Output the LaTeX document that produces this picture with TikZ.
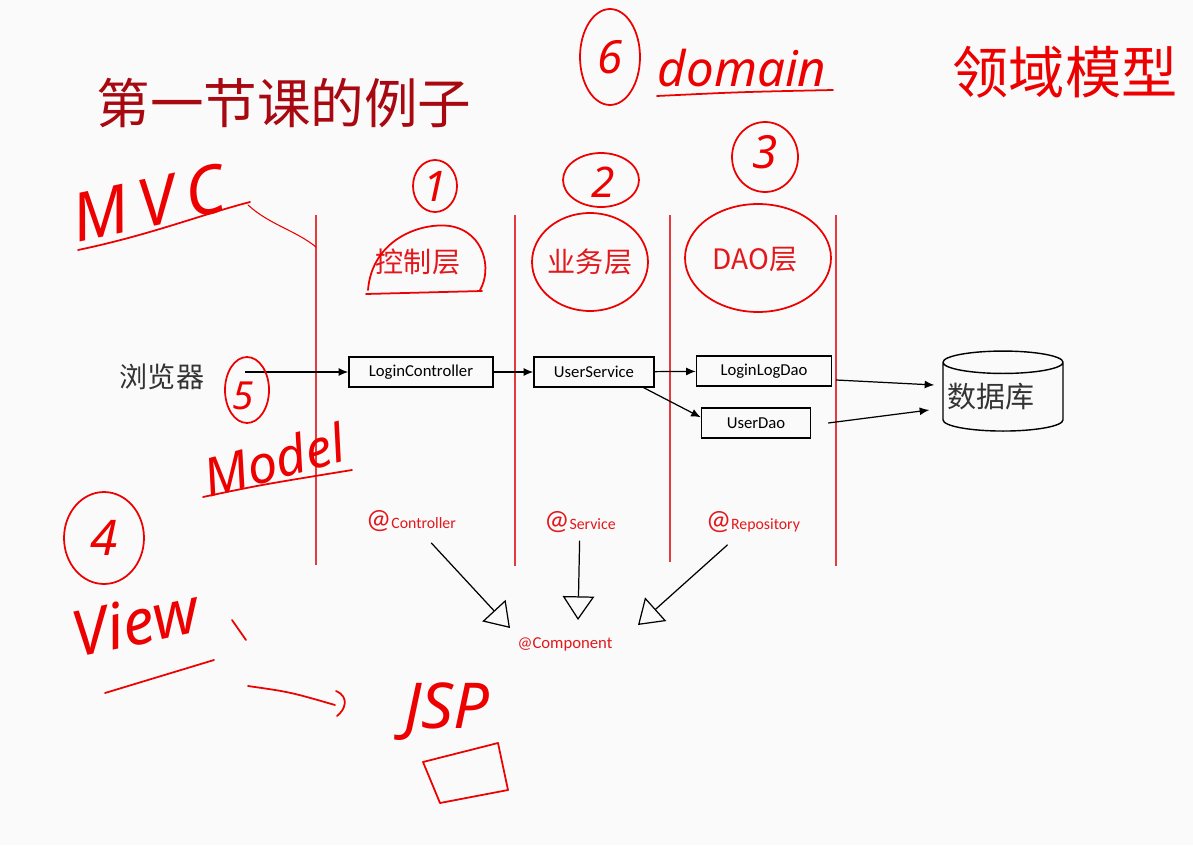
\documentclass[tikz,border=0pt]{standalone}
\usepackage{fontspec}
\setmainfont{Carlito}
\newfontfamily\cjk{Noto Sans CJK SC}
\newfontfamily\hand{Noto Sans}
\usetikzlibrary{arrows.meta,shapes.geometric}

\definecolor{titlered}{RGB}{168,8,16}
\definecolor{layerred}{RGB}{226,24,28}
\definecolor{ink}{RGB}{236,0,0}
\definecolor{paper}{RGB}{250,250,250}

\tikzset{
  cls/.style={draw, line width=0.8pt, minimum height=0.6cm, inner sep=0pt,
    font=\fontsize{9.5}{11}\selectfont},
  flow/.style={-{Latex[length=5.5pt,width=4.5pt]}, line width=0.7pt},
  inherit/.style={-{Triangle[open,length=13.5pt,width=18pt]}, line width=0.7pt},
  lane/.style={draw=layerred!85, line width=0.8pt},
  layer/.style={text=layerred, font=\cjk\fontsize{16}{18}\selectfont},
  anno/.style={text=layerred, font=\fontsize{9}{10}\selectfont, inner sep=1pt},
  pen/.style={draw=ink, line width=1pt, line cap=round, line join=round},
  handtext/.style={text=ink, inner sep=0pt, font=\hand\itshape\fontsize{#1}{#1}\selectfont},
}

\begin{document}
\begin{tikzpicture}[x=0.02cm, y=-0.02cm]
\fill[paper] (0,0) rectangle (1193,845);
\useasboundingbox (0,0) rectangle (1193,845);

% title
\node[text=titlered, font=\cjk\fontsize{30.5}{34}\selectfont] (title) at (284,103) {第一节课的例子};

% lanes
\foreach \x/\b in {316/565, 515/566, 670/562, 836/566}
  \draw[lane] (\x,215) -- (\x,\b);

% layer names
\node[layer] (hctl) at (418,262) {控制层};
\node[layer] (hsvc) at (590,262) {业务层};
\node[layer] (hdao) at (755,260) {DAO层};

% classes
\node[font=\cjk\fontsize{16}{18}\selectfont, text=black!80] (browser) at (162,377) {浏览器};
\coordinate (bstart) at (245,372);
\node[cls, minimum width=2.88cm] (lc) at (421,372) {LoginController};
\node[cls, minimum width=2.4cm] (us) at (594,372) {UserService};
\node[cls, minimum width=2.7cm] (lld) at (764,371) {LoginLogDao};
\node[cls, minimum width=2.18cm] (ud) at (756,423) {UserDao};
\node[cylinder, shape border rotate=90, draw, line width=0.8pt, aspect=0.2,
  minimum width=2.4cm, minimum height=1.6cm, inner xsep=0pt, text=black!80,
  font=\cjk\fontsize{16.5}{18}\selectfont] (db) at (1003,397) {数据库\hspace*{0.5cm}\mbox{}};

\draw[flow] (bstart) -- (lc.west);
\draw[flow] (lc) -- (us);
\draw[flow] (us) -- (lld);
\draw[flow] ([xshift=-0.22cm]us.south east) -- ([yshift=-0.2cm]ud.north west);
\draw[flow] ([xshift=0.08cm,yshift=-0.18cm]lld.east) -- ([xshift=-0.16cm,yshift=0.24cm]db.west);
\draw[flow] ([xshift=0.34cm]ud.east) -- ([xshift=-0.26cm,yshift=-0.26cm]db.west);

% annotations
\node[anno] (actl) at (411,521) {{\fontsize{16}{16}\selectfont @}Controller};
\node[anno] (asvc) at (580,522) {{\fontsize{16}{16}\selectfont @}Service};
\node[anno] (arep) at (753,522) {{\fontsize{16}{16}\selectfont @}Repository};
\node[anno, font=\fontsize{9.5}{11}\selectfont] (comp) at (565,644) {@Component};
\coordinate (tipC) at (510,628);
\coordinate (tipS) at (578,620);
\coordinate (tipR) at (638,625);
\draw[inherit, shorten <=0.25cm] (actl) -- (tipC);
\draw[inherit, shorten <=0.12cm] (asvc) -- (tipS);
\draw[inherit, shorten <=0.3cm] (arep) -- (tipR);

% handwriting
\node[handtext=24] (n1) at (435,186) {1};
\node[handtext=24] (n2) at (603,182) {2};
\node[handtext=26] (n3) at (765,152) {3};
\node[handtext=28] (n4) at (104,538) {4};
\node[handtext=22] (n5) at (243,396) {5};
\node[handtext=26] (n6) at (610,57) {6};
\draw[pen] (n1) ellipse [x radius=0.44cm, y radius=0.52cm];
\draw[pen] (601,180) ellipse [x radius=0.76cm, y radius=0.54cm];
\draw[pen] (765,157) ellipse [x radius=0.66cm, y radius=0.7cm];
\draw[pen] (n4) ellipse [x radius=0.8cm, y radius=0.92cm];
\draw[pen] (247,390) ellipse [x radius=0.44cm, y radius=0.66cm];
\draw[pen] (n6) ellipse [x radius=0.6cm, y radius=0.96cm];

\draw[pen] (368,290) .. controls (372,240) and (420,222) .. (450,226)
  .. controls (485,232) and (492,270) .. (480,290);
\draw[pen] (366,294) -- (482,291);
\draw[pen] (hsvc) ellipse [x radius=1.16cm, y radius=0.98cm];
\draw[pen] (758,258) ellipse [x radius=1.46cm, y radius=1.08cm];

\node[handtext=28] (domain) at (742,68) {domain};
\draw[pen] (657,96) .. controls (740,92) .. (833,90);
\node[text=ink, font=\cjk\fontsize{32}{32}\selectfont] (lingyu) at (1065,72) {领域模型};

\node[handtext=38, rotate=12] (mvc) at (148,203) {M\,V\,C};
\draw[pen] (78,250) .. controls (150,235) and (200,215) .. (250,202);
\draw[pen, line width=0.6pt] (248,205) .. controls (270,225) and (295,230) .. (316,247);

\node[handtext=30, rotate=15] (model) at (274,460) {Model};
\draw[pen] (203,497) .. controls (260,485) .. (352,470);

\node[handtext=36, rotate=12] (view) at (135,622) {View};
\draw[pen] (232,620) -- (246,640);
\draw[pen] (105,693) -- (214,660);
\draw[pen] (248,686) .. controls (290,692) .. (335,705);
\draw[pen] (336,691) .. controls (350,697) and (345,710) .. (337,716);

\node[handtext=36] (jsp) at (447,712) {JSP};
\draw[pen] (423,762) -- (498,743) -- (508,790) -- (440,803) -- cycle;
\end{tikzpicture}
\end{document}
